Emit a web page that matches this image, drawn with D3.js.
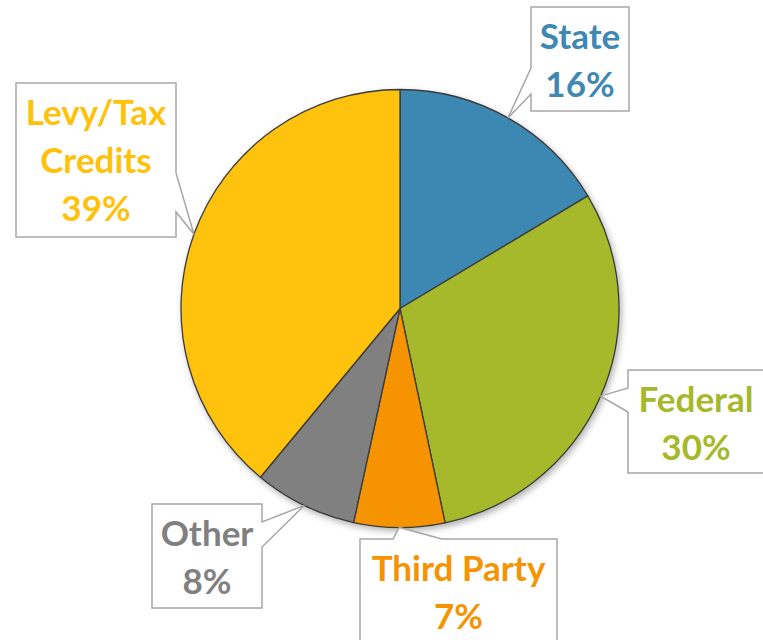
<!DOCTYPE html>
<html>
<head>
<meta charset="utf-8">
<script src="https://cdn.jsdelivr.net/npm/d3@7"></script>
<style>
  html, body { margin: 0; padding: 0; background: #fff; }
  svg { display: block; }
  text { font-family: Lato, "Open Sans", sans-serif; font-weight: 700; }
</style>
</head>
<body>
<div id="chart"></div>
<script>
// funding sources, clockwise from 12 o'clock
const sources = ["State", "Federal", "Third Party", "Other", "Levy/Tax Credits"];
const shares = [16.4, 30.3, 6.7, 7.6, 39.0];
const colors = ["#3E88B3", "#A5B92A", "#F59300", "#808080", "#FFC20A"];
// label text split over lines
const labelLines = [["State"], ["Federal"], ["Third Party"], ["Other"], ["Levy/Tax", "Credits"]];

const width = 763;
const height = 640;
const cx = 400;
const cy = 308.5;
const radius = 219;

// callout boxes: rect + which side the pointer leaves from (a..b along that side)
const callouts = {
  "State": { x: 531, y: 7, w: 98, h: 104, side: "left", a: 68, b: 94 },
  "Federal": { x: 628, y: 370, w: 136, h: 103, side: "left", a: 388, b: 412 },
  "Third Party": { x: 360, y: 539, w: 197, h: 110, side: "top", a: 393, b: 442 },
  "Other": { x: 152, y: 504, w: 110, h: 104, side: "right", a: 522, b: 547 },
  "Levy/Tax Credits": { x: 16, y: 83, w: 160, h: 154, side: "right", a: 173, b: 212 },
};

const data = sources.map((name, i) => ({
  name,
  value: shares[i],
  color: colors[i],
  lines: labelLines[i],
}));

const svg = d3
  .select("#chart")
  .append("svg")
  .attr("width", width)
  .attr("height", height);

const defs = svg.append("defs");
defs
  .append("filter")
  .attr("id", "shadow")
  .attr("x", "-10%")
  .attr("y", "-10%")
  .attr("width", "125%")
  .attr("height", "125%")
  .append("feDropShadow")
  .attr("dx", 2)
  .attr("dy", 3)
  .attr("stdDeviation", 3)
  .attr("flood-color", "#000")
  .attr("flood-opacity", 0.3);

const pie = d3
  .pie()
  .sort(null)
  .value((d) => d.value);
const arcs = pie(data);
const total = d3.sum(data, (d) => d.value);

const arc = d3.arc().innerRadius(0).outerRadius(radius);

const g = svg.append("g").attr("transform", `translate(${cx},${cy})`);

g.append("g")
  .attr("filter", "url(#shadow)")
  .selectAll("path")
  .data(arcs)
  .join("path")
  .attr("d", arc)
  .attr("fill", (d) => d.data.color)
  .attr("stroke", "#3a3a3a")
  .attr("stroke-width", 1.3)
  .attr("stroke-linejoin", "round");

function calloutPath(box, tip) {
  const x0 = box.x,
    y0 = box.y,
    x1 = box.x + box.w,
    y1 = box.y + box.h;
  const p = d3.path();
  p.moveTo(x0, y0);
  if (box.side === "top") {
    p.lineTo(box.a, y0);
    p.lineTo(tip[0], tip[1]);
    p.lineTo(box.b, y0);
  }
  p.lineTo(x1, y0);
  if (box.side === "right") {
    p.lineTo(x1, box.a);
    p.lineTo(tip[0], tip[1]);
    p.lineTo(x1, box.b);
  }
  p.lineTo(x1, y1);
  p.lineTo(x0, y1);
  if (box.side === "left") {
    p.lineTo(x0, box.b);
    p.lineTo(tip[0], tip[1]);
    p.lineTo(x0, box.a);
  }
  p.closePath();
  return p.toString();
}

const fmt = d3.format(".0%");
const labels = svg.append("g").attr("class", "labels");

arcs.forEach((d) => {
  const box = callouts[d.data.name];
  const mid = (d.startAngle + d.endAngle) / 2;
  const tip = [cx + radius * Math.sin(mid), cy - radius * Math.cos(mid)];

  labels
    .append("path")
    .attr("d", calloutPath(box, tip))
    .attr("fill", "#fff")
    .attr("stroke", "#a6a6a6")
    .attr("stroke-width", 1.5);

  const lines = d.data.lines.concat([fmt(d.data.value / total)]);
  const lineH = 48;
  const first = box.y + 42;
  labels
    .append("text")
    .attr("text-anchor", "middle")
    .attr("fill", d.data.color)
    .attr("font-size", 35)
    .selectAll("tspan")
    .data(lines)
    .join("tspan")
    .attr("x", box.x + box.w / 2)
    .attr("y", (l, i) => first + i * lineH)
    .text((l) => l);
});
</script>
</body>
</html>
